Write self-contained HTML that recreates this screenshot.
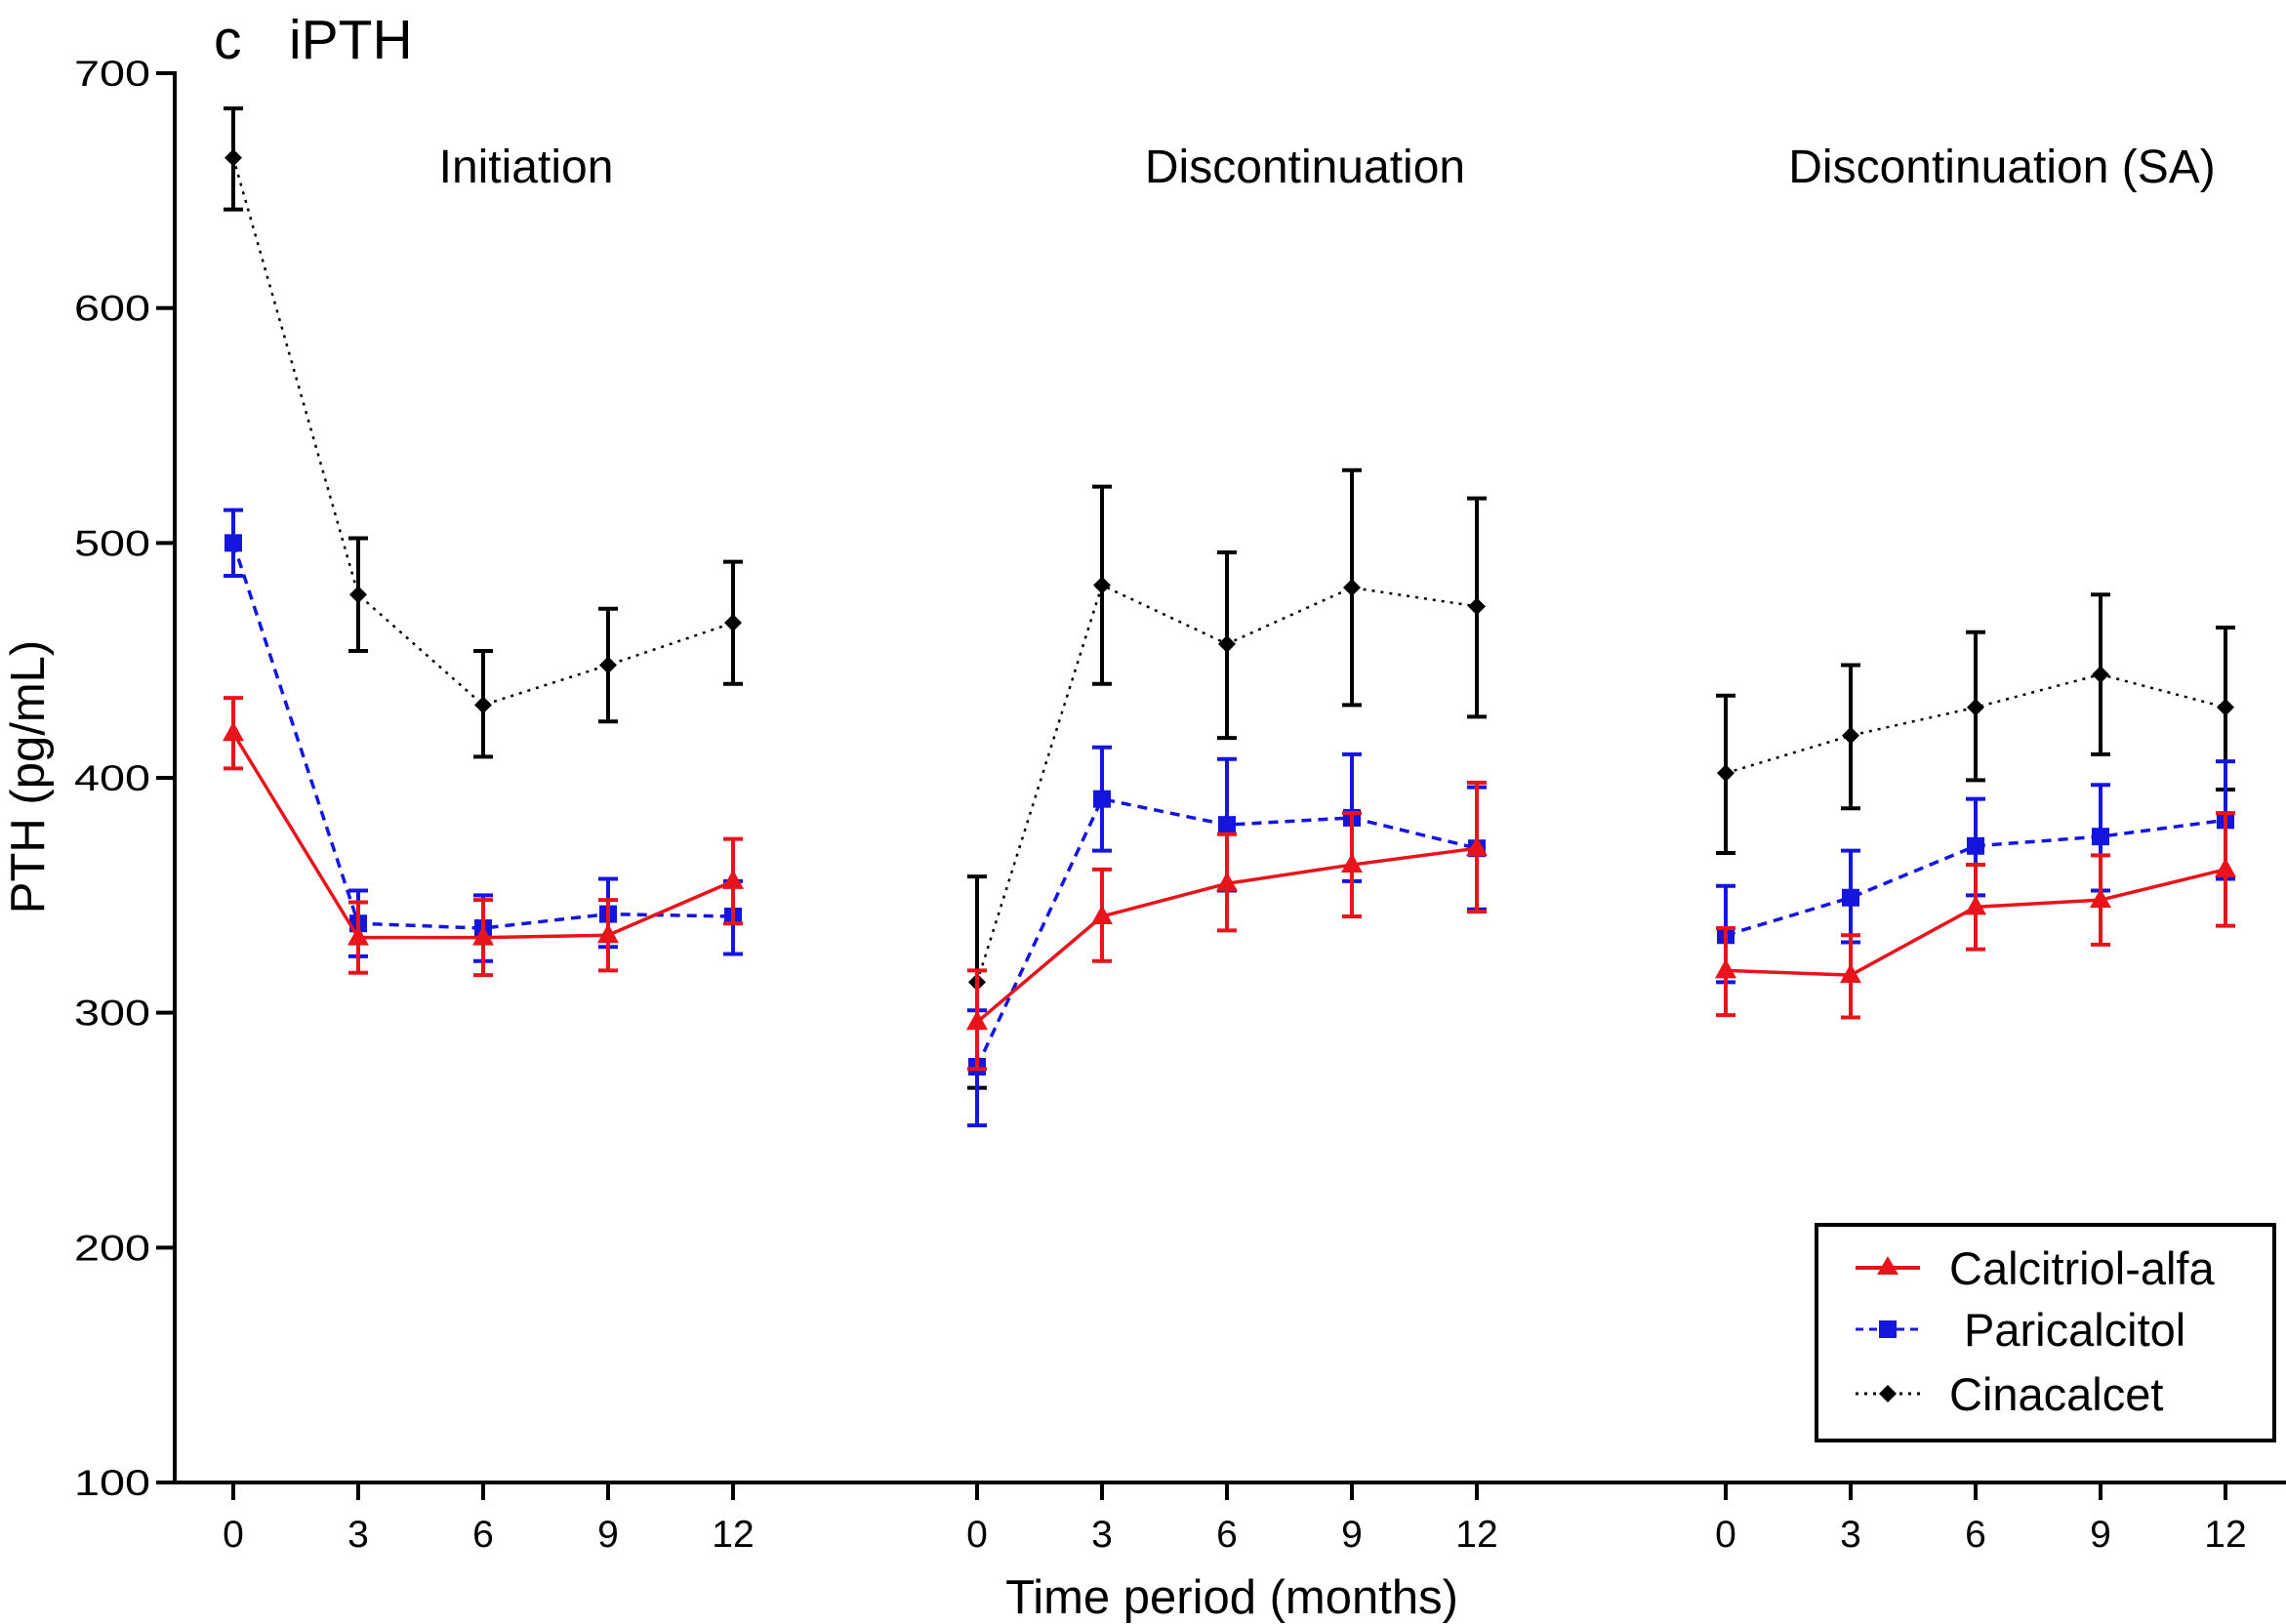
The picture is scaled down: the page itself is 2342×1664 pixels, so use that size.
<!DOCTYPE html>
<html><head><meta charset="utf-8"><style>
html,body{margin:0;padding:0;background:#fff;}
svg{display:block;font-family:"Liberation Sans",Arial,sans-serif;}
</style></head><body>
<svg id="chart" width="2342" height="1664" viewBox="0 0 2342 1664" xmlns="http://www.w3.org/2000/svg">
<rect width="2342" height="1664" fill="#fff"/>
<text x="219" y="60" font-size="57">c</text>
<text x="296" y="60" font-size="57">iPTH</text>
<g id="axes"></g>
<g id="marks"></g>
<g id="legend">
<rect x="1861" y="1255" width="469" height="221" fill="#fff" stroke="#000" stroke-width="4"/>
<g>
<line x1="1901" y1="1299" x2="1967" y2="1299" stroke="#e8141b" stroke-width="4"/>
<polygon points="1934,1287 1945,1306 1923,1306" fill="#e8141b"/>
<text x="1997" y="1316" font-size="47">Calcitriol-alfa</text></g>
<g>
<line x1="1901" y1="1362" x2="1967" y2="1362" stroke="#1515e0" stroke-width="3" stroke-dasharray="8,6"/>
<rect x="1925" y="1353" width="18" height="18" fill="#1515e0"/>
<text x="2012" y="1379" font-size="47">Paricalcitol</text></g>
<g>
<line x1="1901" y1="1428" x2="1967" y2="1428" stroke="#000" stroke-width="3" stroke-dasharray="3,6"/>
<polygon points="1934,1419 1943,1428 1934,1437 1925,1428" fill="#000"/>
<text x="1997" y="1445" font-size="47">Cinacalcet</text></g>
</g>
</svg>
<script>
const months=[0,3,6,9,12];
const periods=["Initiation","Discontinuation","Discontinuation (SA)"];
const yTicks=[100,200,300,400,500,600,700];
const calcMean=[[419,332,332,333,356],[296,341,355,363,370],[318,316,345,348,361]];
const calcLo=[[404,317,316,318,338],[276,322,335,341,343],[299,298,327,329,337]];
const calcHi=[[434,347,348,348,374],[318,361,376,385,398],[336,333,363,367,385]];
const pariMean=[[500,338,336,342,341],[277,391,380,383,370],[333,349,371,375,382]];
const pariLo=[[486,324,322,328,325],[252,369,352,356,344],[313,330,350,352,357]];
const pariHi=[[514,352,350,357,356],[301,413,408,410,396],[354,369,391,397,407]];
const cinaMean=[[664,478,431,448,466],[313,482,457,481,473],[402,418,430,444,430]];
const cinaLo=[[642,454,409,424,440],[268,440,417,431,426],[368,387,399,410,395]];
const cinaHi=[[685,502,454,472,492],[358,524,496,531,519],[435,448,462,478,464]];

const NS="http://www.w3.org/2000/svg";
const periodX0=[239,1001,1768];
const titleShift=[44,80,27];
const monthPx=(1513-1001)/12;
function xs(p,m){return periodX0[p]+m*monthPx;}
function ys(v){return 1519-(v-100)*(1519-75)/600;}
function mk(tag,attrs,parent){const e=document.createElementNS(NS,tag);for(const k in attrs)e.setAttribute(k,attrs[k]);parent.appendChild(e);return e;}
const axes=document.getElementById('axes');
const marks=document.getElementById('marks');

let yAxis=mk('line',{x1:179,y1:73,x2:179,y2:1521,stroke:'#000','stroke-width':4},axes);


let xAxis=mk('line',{x1:177,y1:1519,x2:2342,y2:1519,stroke:'#000','stroke-width':4},axes);


yTicks.forEach(v=>{
  mk('line',{x1:160,y1:ys(v),x2:179,y2:ys(v),stroke:'#000','stroke-width':4},axes);
  let t=mk('text',{x:154,y:ys(v)+13,'font-size':37,'text-anchor':'end',textLength:78,lengthAdjust:'spacingAndGlyphs'},axes);
  t.textContent=v;
  
  
});
periods.forEach((name,p)=>{
  months.forEach(m=>{
    mk('line',{x1:xs(p,m),y1:1519,x2:xs(p,m),y2:1537,stroke:'#000','stroke-width':4},axes);
    let t=mk('text',{x:xs(p,m),y:1585,'font-size':39,'text-anchor':'middle'},axes);
    t.textContent=m;
    
    
  });
  let t=mk('text',{x:(xs(p,0)+xs(p,12))/2+titleShift[p],y:187,'font-size':48,'text-anchor':'middle'},axes);
  t.textContent=name;
  
  
});
let xt=mk('text',{x:1262,y:1653,'font-size':49,'text-anchor':'middle'},axes);
xt.textContent='Time period (months)';


let yt=mk('text',{x:0,y:0,'font-size':49,'text-anchor':'middle',transform:'translate(45,796) rotate(-90)'},axes);
yt.textContent='PTH (pg/mL)';



function series(name,mean,lo,hi,color,lw,dash,marker){
  periods.forEach((pn,p)=>{
    const g=mk('g',{},marks);
    
    
    months.forEach((m,i)=>{
      const x=xs(p,m);
      mk('line',{x1:x,y1:ys(lo[p][i]),x2:x,y2:ys(hi[p][i]),stroke:color,'stroke-width':4},g);
      mk('line',{x1:x-10,y1:ys(lo[p][i]),x2:x+10,y2:ys(lo[p][i]),stroke:color,'stroke-width':4},g);
      mk('line',{x1:x-10,y1:ys(hi[p][i]),x2:x+10,y2:ys(hi[p][i]),stroke:color,'stroke-width':4},g);
    });
    const pts=months.map((m,i)=>xs(p,m)+','+ys(mean[p][i])).join(' ');
    const a={points:pts,fill:'none',stroke:color,'stroke-width':lw};
    if(dash)a['stroke-dasharray']=dash;
    mk('polyline',a,g);
    months.forEach((m,i)=>{
      const x=xs(p,m),y=ys(mean[p][i]);
      let e;
      if(marker==='tri')e=mk('polygon',{points:`${x},${y-12} ${x+11},${y+8} ${x-11},${y+8}`,fill:color},g);
      else if(marker==='sq')e=mk('rect',{x:x-9,y:y-9,width:18,height:18,fill:color},g);
      else e=mk('polygon',{points:`${x},${y-9} ${x+9},${y} ${x},${y+9} ${x-9},${y}`,fill:color},g);
      
      
    });
  });
}
series('cinacalcet',cinaMean,cinaLo,cinaHi,'#000',2.5,'3,6','dia');
series('paricalcitol',pariMean,pariLo,pariHi,'#1515e0',3.5,'10,7','sq');
series('calcitriol',calcMean,calcLo,calcHi,'#e8141b',3.5,null,'tri');
</script>
</body></html>
